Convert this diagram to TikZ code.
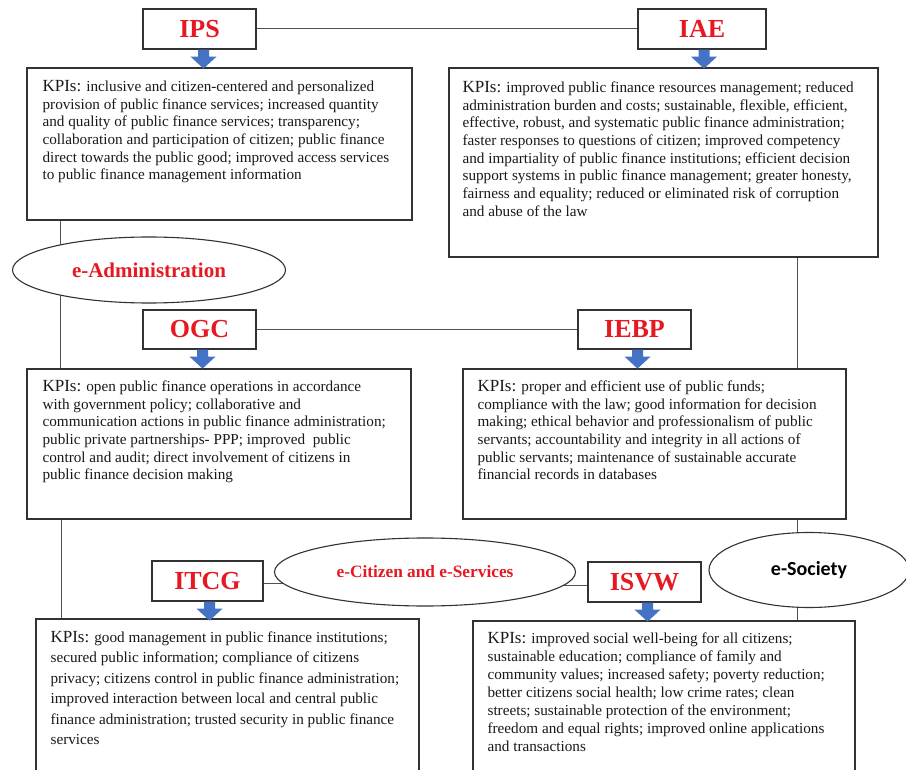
\documentclass[tikz,border=0pt]{standalone}
\usepackage{fontspec}
\setmainfont{Liberation Serif}
\newfontfamily\calib{Carlito}
\usetikzlibrary{shapes.geometric,calc}
\definecolor{ttlred}{RGB}{230,25,35}
\definecolor{arrblue}{RGB}{68,114,196}
\definecolor{boxgray}{RGB}{50,50,50}
\definecolor{txtgray}{RGB}{25,25,25}
\pgfdeclarelayer{bg}
\pgfdeclarelayer{paper}
\pgfsetlayers{paper,bg,main}
\newcommand\kpilab{{\fontsize{17}{17}\selectfont KPIs:}}
\tikzset{
  ttlbox/.style={draw=boxgray, line width=1.2pt, fill=white, inner sep=0pt,
    font=\fontsize{26}{26}\selectfont\bfseries, text=ttlred},
  kpibox/.style={draw=boxgray, line width=1.2pt, fill=white, inner sep=0pt},
  kpitext/.style={anchor=north west, inner sep=0pt, align=left, text=txtgray,
    font=\fontsize{15.2}{17.7}\selectfont},
  oval/.style={ellipse, draw=boxgray, line width=1.1pt, fill=white, inner sep=0pt},
  link/.style={draw=boxgray!85, line width=1pt},
  kpiarrow/.pic={\fill[arrblue] (-5.5,0) -- (5.5,0) -- (5.5,7) -- (13,7) -- (0,19) -- (-13,7) -- (-5.5,7) -- cycle;}
}
\begin{document}
\begin{tikzpicture}[x=1pt,y=-1pt]
\useasboundingbox (0,0) rectangle (906,770);
\clip (0,0) rectangle (906,770);
\begin{pgfonlayer}{paper}
\fill[white] (0,0) rectangle (906,770);
\end{pgfonlayer}
% title boxes
\node[ttlbox, minimum width=113, minimum height=40] (ips) at (199.5,29) {IPS};
\node[ttlbox, minimum width=128, minimum height=40] (iae) at (702,29) {IAE};
\node[ttlbox, minimum width=113, minimum height=39] (ogc) at (199.5,329.5) {OGC};
\node[ttlbox, minimum width=113, minimum height=39] (iebp) at (634.5,329.5) {IEBP};
\node[ttlbox, minimum width=111, minimum height=40] (itcg) at (207.5,581) {ITCG};
\node[ttlbox, minimum width=113, minimum height=40] (isvw) at (644.5,582) {ISVW};
% KPI boxes
\node[kpibox, minimum width=385, minimum height=152] (ipsk) at (219.5,144) {};
\node[kpibox, minimum width=429, minimum height=189] (iaek) at (663.5,162.5) {};
\node[kpibox, minimum width=384, minimum height=150] (ogck) at (219,444) {};
\node[kpibox, minimum width=383, minimum height=150] (iebpk) at (654.5,444) {};
\node[kpibox, minimum width=383, minimum height=171] (itcgk) at (227.5,704.5) {};
\node[kpibox, minimum width=382, minimum height=169] (isvwk) at (664,705.5) {};
% texts
\node[kpitext] (ipst) at ($(ipsk.north west)+(16,12.7)$) {\kpilab{} inclusive and citizen-centered and personalized\\
provision of public finance services; increased quantity\\
and quality of public finance services; transparency;\\
collaboration and participation of citizen; public finance\\
direct towards the public good; improved access services\\
to public finance management information};
\node[kpitext] (iaet) at ($(iaek.north west)+(14,13.7)$) {\kpilab{} improved public finance resources management; reduced\\
administration burden and costs; sustainable, flexible, efficient,\\
effective, robust, and systematic public finance administration;\\
faster responses to questions of citizen; improved competency\\
and impartiality of public finance institutions; efficient decision\\
support systems in public finance management; greater honesty,\\
fairness and equality; reduced or eliminated risk of corruption\\
and abuse of the law};
\node[kpitext] (ogct) at ($(ogck.north west)+(16,11.7)$) {\kpilab{} open public finance operations in accordance\\
with government policy; collaborative and\\
communication actions in public finance administration;\\
public private partnerships- PPP; improved\ \ public\\
control and audit; direct involvement of citizens in\\
public finance decision making};
\node[kpitext] (iebpt) at ($(iebpk.north west)+(15,11.7)$) {\kpilab{} proper and efficient use of public funds;\\
compliance with the law; good information for decision\\
making; ethical behavior and professionalism of public\\
servants; accountability and integrity in all actions of\\
public servants; maintenance of sustainable accurate\\
financial records in databases};
\node[kpitext, font=\fontsize{15.2}{20.5}\selectfont] (itcgt) at ($(itcgk.north west)+(15,12.7)$) {\kpilab{} good management in public finance institutions;\\
secured public information; compliance of citizens\\
privacy; citizens control in public finance administration;\\
improved interaction between local and central public\\
finance administration; trusted security in public finance\\
services};
\node[kpitext, font=\fontsize{15.2}{18}\selectfont] (isvwt) at ($(isvwk.north west)+(15,11.7)$) {\kpilab{} improved social well-being for all citizens;\\
sustainable education; compliance of family and\\
community values; increased safety; poverty reduction;\\
better citizens social health; low crime rates; clean\\
streets; sustainable protection of the environment;\\
freedom and equal rights; improved online applications\\
and transactions};
% ellipses
\node[oval, minimum width=273, minimum height=66, text=ttlred, font=\fontsize{21}{21}\selectfont\bfseries] (eadm) at (149,270) {e-Administration};
\node[oval, minimum width=301, minimum height=68, text=ttlred, font=\fontsize{17.3}{17.3}\selectfont\bfseries] (ecit) at (425,572) {e-Citizen and e-Services};
\node[oval, minimum width=200, minimum height=75, text=black, font=\calib\fontsize{20}{20}\selectfont\bfseries] (esoc) at (809,570) {e-Society};
% arrows
\pic at ($(ips.south)+(4,0)$) {kpiarrow};
\pic at ($(iae.south)+(2,0)$) {kpiarrow};
\pic at ($(ogc.south)+(3,0)$) {kpiarrow};
\pic at ($(iebp.south)+(3,0)$) {kpiarrow};
\pic at ($(itcg.south)+(2,0)$) {kpiarrow};
\pic at ($(isvw.south)+(3,0)$) {kpiarrow};
% connectors
\coordinate (lx) at (60,0);
\coordinate (rx) at (797,0);
\begin{pgfonlayer}{bg}
\draw[link] (ips.east) -- (iae.west);
\draw[link] (ogc.east) -- (iebp.west);
\draw[link] (ipsk.south -| lx) -- (ogck.north -| lx);
\draw[link] ($(ogck.south -| lx)+(1,0)$) -- ($(itcgk.north -| lx)+(1,0)$);
\draw[link] (iaek.south -| rx) -- (iebpk.north -| rx);
\draw[link] (iebpk.south -| rx) -- (isvwk.north -| rx);
\draw[link] ($(itcg.east)+(0,2)$) -- ($(itcg.east -| ecit.center)+(0,2)$);
\draw[link] ($(isvw.west -| ecit.center)+(0,3)$) -- ($(isvw.west)+(0,3)$);
\end{pgfonlayer}
\end{tikzpicture}
\end{document}
